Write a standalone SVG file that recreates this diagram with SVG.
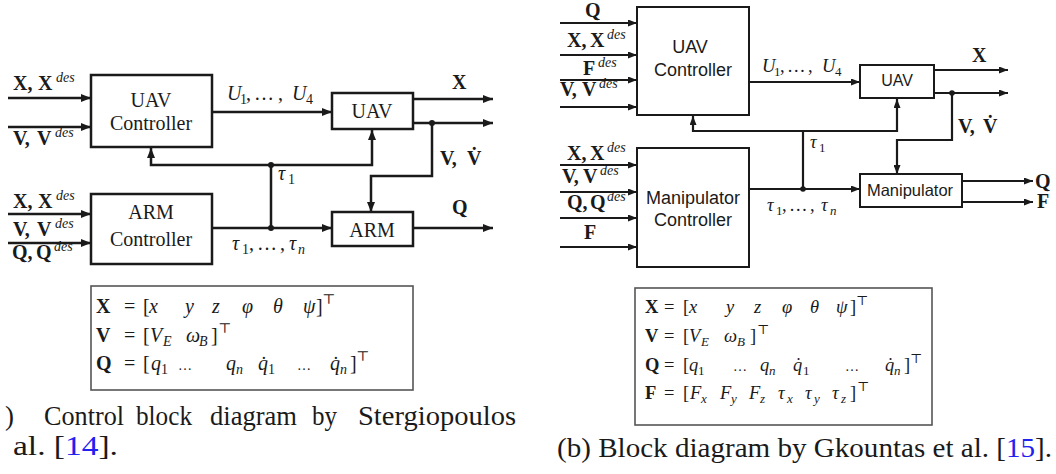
<svg xmlns="http://www.w3.org/2000/svg" width="1056" height="474" viewBox="0 0 1056 474">
<defs>
<style>
.ln{fill:none;stroke:#1a1a1a;stroke-width:2.5}
.lr{fill:none;stroke:#1a1a1a;stroke-width:2.2}
.bx{fill:#fff;stroke:#1a1a1a;stroke-width:2.5}
.bxr{fill:#fff;stroke:#1a1a1a;stroke-width:2}
.lg{fill:#fff;stroke:#555;stroke-width:1.6}
.dot{fill:#1a1a1a}
text{font-family:"Liberation Serif","DejaVu Serif",serif;fill:#1a1a1a}
.bf{font-weight:bold;font-size:20px}
.sp{font-style:italic;font-weight:normal;font-size:14px}
.rm{font-size:20px;font-weight:normal;font-style:normal}
.mi{font-style:italic;font-weight:normal;font-size:20px}
.sb{font-size:14px;font-weight:normal;font-style:normal}
.sbi{font-style:italic;font-weight:normal;font-size:14px}
.el{font-size:14px;font-weight:normal;font-style:normal}
.bf2{font-weight:bold;font-size:18.5px}
.rm2{font-size:18.5px;font-weight:normal}
.mi2{font-style:italic;font-size:18.5px}
.sb2{font-size:13px}
.sbi2{font-style:italic;font-size:13px}
.ss{font-family:"Liberation Sans","Noto Sans",sans-serif}
.cap{font-size:27px}
.blue{fill:#2020f0}
.ctr{text-anchor:middle}
</style>
<marker id="ah" markerUnits="userSpaceOnUse" markerWidth="10" markerHeight="8" refX="10" refY="4" orient="auto"><path d="M0,0L10,4L0,8z" fill="#1a1a1a"/></marker>
<marker id="ahr" markerUnits="userSpaceOnUse" markerWidth="9" markerHeight="7" refX="9" refY="3.5" orient="auto"><path d="M0,0L9,3.5L0,7z" fill="#1a1a1a"/></marker>
</defs>
<rect width="1056" height="474" fill="#fff"/>

<!-- ===== Left diagram ===== -->
<g id="connectors-left">
<path class="ln" d="M8,98H91" marker-end="url(#ah)"/>
<path class="ln" d="M8,127H91" marker-end="url(#ah)"/>
<path class="ln" d="M8,214H91" marker-end="url(#ah)"/>
<path class="ln" d="M8,243H91" marker-end="url(#ah)"/>
<path class="ln" d="M212,112H332" marker-end="url(#ah)"/>
<path class="ln" d="M413,99H493" marker-end="url(#ah)"/>
<path class="ln" d="M413,123H493" marker-end="url(#ah)"/>
<path class="ln" d="M432,123V176H371V212" marker-end="url(#ah)"/>
<path class="ln" d="M212,228H332" marker-end="url(#ah)"/>
<path class="ln" d="M271,228V165"/>
<path class="ln" d="M271,165H151V148" marker-end="url(#ah)"/>
<path class="ln" d="M271,165H372V130" marker-end="url(#ah)"/>
<path class="ln" d="M413,228H493" marker-end="url(#ah)"/>
<circle class="dot" cx="432" cy="123" r="3"/>
<circle class="dot" cx="271" cy="165" r="3"/>
<circle class="dot" cx="271" cy="228" r="3"/>
</g>

<g id="uav-controller-left">
<rect class="bx" x="91" y="75" width="121" height="72"/>
<text class="rm ctr" x="151" y="107">UAV</text>
<text class="rm ctr" x="151" y="130">Controller</text>
</g>
<g id="arm-controller-left">
<rect class="bx" x="91" y="194" width="121" height="70"/>
<text class="rm ctr" x="151" y="219">ARM</text>
<text class="rm ctr" x="151" y="246">Controller</text>
</g>
<g id="uav-left">
<rect class="bx" x="332" y="93" width="81" height="36"/>
<text class="rm ctr" x="372" y="118">UAV</text>
</g>
<g id="arm-left">
<rect class="bx" x="332" y="212" width="81" height="34"/>
<text class="rm ctr" x="372" y="237">ARM</text>
</g>

<g id="labels-left">
<text class="bf" y="90"><tspan x="13">X,</tspan><tspan x="38">X</tspan><tspan class="sp" x="56" y="82">des</tspan></text>
<text class="bf" y="145"><tspan x="13">V,</tspan><tspan x="37">V</tspan><tspan class="sp" x="55" y="137">des</tspan></text>
<text class="bf" y="208"><tspan x="13">X,</tspan><tspan x="38">X</tspan><tspan class="sp" x="56" y="200">des</tspan></text>
<text class="bf" y="236"><tspan x="13">V,</tspan><tspan x="37">V</tspan><tspan class="sp" x="55" y="228">des</tspan></text>
<text class="bf" y="259"><tspan x="12">Q,</tspan><tspan x="36">Q</tspan><tspan class="sp" x="54" y="251">des</tspan></text>
<text y="100"><tspan class="mi" x="227">U</tspan><tspan class="sb" x="240" y="104">1</tspan><tspan class="rm" x="246" y="100">,</tspan><tspan class="rm" x="254">…</tspan><tspan class="rm" x="278">,</tspan><tspan class="mi" x="292">U</tspan><tspan class="sb" x="306" y="104">4</tspan></text>
<text class="bf" x="452" y="89">X</text>
<text class="bf" y="165"><tspan x="440">V,</tspan><tspan x="467">V̇</tspan></text>
<text y="180"><tspan class="mi" x="278">τ</tspan><tspan class="sb" x="288" y="184">1</tspan></text>
<text class="bf" x="452" y="214">Q</text>
<text y="250"><tspan class="mi" x="232">τ</tspan><tspan class="sb" x="242" y="254">1</tspan><tspan class="rm" x="249" y="250">,</tspan><tspan class="rm" x="257">…</tspan><tspan class="rm" x="280">,</tspan><tspan class="mi" x="289">τ</tspan><tspan class="sbi" x="298" y="254">n</tspan></text>
</g>

<g id="legend-left">
<rect class="lg" x="91" y="286" width="322" height="104"/>
<text y="313"><tspan class="bf" x="96">X</tspan><tspan class="rm" x="124">=</tspan><tspan class="rm" x="143">[</tspan><tspan class="mi" x="149">x</tspan><tspan class="mi" x="185">y</tspan><tspan class="mi" x="212">z</tspan><tspan class="mi" x="242">φ</tspan><tspan class="mi" x="273">θ</tspan><tspan class="mi" x="303">ψ</tspan><tspan class="rm" x="316">]</tspan><tspan class="sb" x="322" y="304">⊤</tspan></text>
<text y="342"><tspan class="bf" x="96">V</tspan><tspan class="rm" x="124">=</tspan><tspan class="rm" x="143">[</tspan><tspan class="mi" x="150">V</tspan><tspan class="sbi" x="163" y="346">E</tspan><tspan class="mi" x="186" y="342">ω</tspan><tspan class="sbi" x="199" y="346">B</tspan><tspan class="rm" x="211" y="342">]</tspan><tspan class="sb" x="218" y="333">⊤</tspan></text>
<text y="370"><tspan class="bf" x="96">Q</tspan><tspan class="rm" x="124">=</tspan><tspan class="rm" x="143">[</tspan><tspan class="mi" x="151">q</tspan><tspan class="sb" x="161" y="374">1</tspan><tspan class="el" x="178" y="370">…</tspan><tspan class="mi" x="226" y="370">q</tspan><tspan class="sbi" x="236" y="374">n</tspan><tspan class="mi" x="258" y="370">q̇</tspan><tspan class="sb" x="268" y="374">1</tspan><tspan class="el" x="297" y="370">…</tspan><tspan class="mi" x="330" y="370">q̇</tspan><tspan class="sbi" x="340" y="374">n</tspan><tspan class="rm" x="350" y="370">]</tspan><tspan class="sb" x="356" y="361">⊤</tspan></text>
</g>

<g id="caption-left">
<text class="cap" y="425"><tspan x="5">)</tspan><tspan x="44" textLength="80" lengthAdjust="spacingAndGlyphs">Control</tspan><tspan x="136" textLength="56" lengthAdjust="spacingAndGlyphs">block</tspan><tspan x="210" textLength="87" lengthAdjust="spacingAndGlyphs">diagram</tspan><tspan x="312" textLength="25" lengthAdjust="spacingAndGlyphs">by</tspan><tspan x="358" textLength="158" lengthAdjust="spacingAndGlyphs">Stergiopoulos</tspan></text>
<text class="cap" x="13" y="455" textLength="105" lengthAdjust="spacingAndGlyphs">al. [<tspan class="blue">14</tspan>].</text>
</g>

<!-- ===== Right diagram ===== -->
<g id="connectors-right">
<path class="lr" d="M560,23H637" marker-end="url(#ahr)"/>
<path class="lr" d="M560,55H637" marker-end="url(#ahr)"/>
<path class="lr" d="M560,80H637" marker-end="url(#ahr)"/>
<path class="lr" d="M560,107H637" marker-end="url(#ahr)"/>
<path class="lr" d="M560,165H637" marker-end="url(#ahr)"/>
<path class="lr" d="M560,192H637" marker-end="url(#ahr)"/>
<path class="lr" d="M560,218H637" marker-end="url(#ahr)"/>
<path class="lr" d="M560,247H637" marker-end="url(#ahr)"/>
<path class="lr" d="M749,82H860" marker-end="url(#ahr)"/>
<path class="lr" d="M934,70H1008" marker-end="url(#ahr)"/>
<path class="lr" d="M934,93H1008" marker-end="url(#ahr)"/>
<path class="lr" d="M952,93V140H897V174" marker-end="url(#ahr)"/>
<path class="lr" d="M803,189V131"/>
<path class="lr" d="M803,131H693V116" marker-end="url(#ahr)"/>
<path class="lr" d="M803,131H897V99" marker-end="url(#ahr)"/>
<path class="lr" d="M749,189H860" marker-end="url(#ahr)"/>
<path class="lr" d="M962,181H1033" marker-end="url(#ahr)"/>
<path class="lr" d="M962,202H1033" marker-end="url(#ahr)"/>
<circle class="dot" cx="952" cy="93" r="2.8"/>
<circle class="dot" cx="803" cy="189" r="2.8"/>
</g>

<g id="uav-controller-right">
<rect class="bxr" x="637" y="7" width="112" height="108"/>
<text class="ss ctr" x="690" y="53" font-size="18">UAV</text>
<text class="ss ctr" x="693" y="76" font-size="18">Controller</text>
</g>
<g id="manipulator-controller-right">
<rect class="bxr" x="637" y="148" width="112" height="119"/>
<text class="ss ctr" x="693" y="204" font-size="18">Manipulator</text>
<text class="ss ctr" x="693" y="226" font-size="18">Controller</text>
</g>
<g id="uav-right">
<rect class="bxr" x="860" y="65" width="74" height="33"/>
<text class="ss ctr" x="897" y="86" font-size="16">UAV</text>
</g>
<g id="manipulator-right">
<rect class="bxr" x="860" y="174" width="102" height="33"/>
<text class="ss ctr" x="910" y="196" font-size="16.5">Manipulator</text>
</g>

<g id="labels-right">
<text class="bf" x="585" y="17">Q</text>
<text class="bf" y="47"><tspan x="567">X,</tspan><tspan x="590">X</tspan><tspan class="sp" x="607" y="39">des</tspan></text>
<text class="bf" y="75"><tspan x="583">F</tspan><tspan class="sp" x="598" y="67">des</tspan></text>
<text class="bf" y="96"><tspan x="560">V,</tspan><tspan x="582">V</tspan><tspan class="sp" x="599" y="88">des</tspan></text>
<text class="bf" y="160"><tspan x="567">X,</tspan><tspan x="590">X</tspan><tspan class="sp" x="607" y="152">des</tspan></text>
<text class="bf" y="183"><tspan x="562">V,</tspan><tspan x="583">V</tspan><tspan class="sp" x="600" y="175">des</tspan></text>
<text class="bf" y="209"><tspan x="567">Q,</tspan><tspan x="590">Q</tspan><tspan class="sp" x="607" y="201">des</tspan></text>
<text class="bf" x="584" y="239">F</text>
<text y="72"><tspan class="mi2" x="762">U</tspan><tspan class="sb2" x="774" y="76">1</tspan><tspan class="rm2" x="780" y="72">,</tspan><tspan class="rm2" x="787">…</tspan><tspan class="rm2" x="808">,</tspan><tspan class="mi2" x="822">U</tspan><tspan class="sb2" x="835" y="76">4</tspan></text>
<text class="bf" x="972" y="62">X</text>
<text class="bf" y="133"><tspan x="958">V,</tspan><tspan x="983">V̇</tspan></text>
<text y="148"><tspan class="mi2" x="810">τ</tspan><tspan class="sb2" x="819" y="152">1</tspan></text>
<text class="bf" x="1035" y="188">Q</text>
<text class="bf" x="1037" y="208">F</text>
<text y="211"><tspan class="mi2" x="767">τ</tspan><tspan class="sb2" x="776" y="215">1</tspan><tspan class="rm2" x="782" y="211">,</tspan><tspan class="rm2" x="789">…</tspan><tspan class="rm2" x="810">,</tspan><tspan class="mi2" x="821">τ</tspan><tspan class="sbi2" x="830" y="215">n</tspan></text>
</g>

<g id="legend-right">
<rect class="lg" x="635" y="288" width="297" height="137"/>
<text y="313"><tspan class="bf2" x="645">X</tspan><tspan class="rm2" x="664">=</tspan><tspan class="rm2" x="683">[</tspan><tspan class="mi2" x="689">x</tspan><tspan class="mi2" x="726">y</tspan><tspan class="mi2" x="754">z</tspan><tspan class="mi2" x="782">φ</tspan><tspan class="mi2" x="810">θ</tspan><tspan class="mi2" x="836">ψ</tspan><tspan class="rm2" x="850">]</tspan><tspan class="sb2" x="856" y="305">⊤</tspan></text>
<text y="342"><tspan class="bf2" x="645">V</tspan><tspan class="rm2" x="664">=</tspan><tspan class="rm2" x="683">[</tspan><tspan class="mi2" x="689">V</tspan><tspan class="sbi2" x="701" y="346">E</tspan><tspan class="mi2" x="724" y="342">ω</tspan><tspan class="sbi2" x="737" y="346">B</tspan><tspan class="rm2" x="750" y="342">]</tspan><tspan class="sb2" x="757" y="334">⊤</tspan></text>
<text y="371"><tspan class="bf2" x="645">Q</tspan><tspan class="rm2" x="664">=</tspan><tspan class="rm2" x="683">[</tspan><tspan class="mi2" x="689">q</tspan><tspan class="sb2" x="698" y="375">1</tspan><tspan class="el" x="733" y="371">…</tspan><tspan class="mi2" x="760" y="371">q</tspan><tspan class="sbi2" x="769" y="375">n</tspan><tspan class="mi2" x="793" y="371">q̇</tspan><tspan class="sb2" x="803" y="375">1</tspan><tspan class="el" x="845" y="371">…</tspan><tspan class="mi2" x="885" y="371">q̇</tspan><tspan class="sbi2" x="894" y="375">n</tspan><tspan class="rm2" x="904" y="371">]</tspan><tspan class="sb2" x="910" y="363">⊤</tspan></text>
<text y="399"><tspan class="bf2" x="645">F</tspan><tspan class="rm2" x="664">=</tspan><tspan class="rm2" x="683">[</tspan><tspan class="mi2" x="690">F</tspan><tspan class="sbi2" x="701" y="403">x</tspan><tspan class="mi2" x="720" y="399">F</tspan><tspan class="sbi2" x="731" y="403">y</tspan><tspan class="mi2" x="749" y="399">F</tspan><tspan class="sbi2" x="760" y="403">z</tspan><tspan class="mi2" x="778" y="399">τ</tspan><tspan class="sbi2" x="787" y="403">x</tspan><tspan class="mi2" x="805" y="399">τ</tspan><tspan class="sbi2" x="814" y="403">y</tspan><tspan class="mi2" x="832" y="399">τ</tspan><tspan class="sbi2" x="841" y="403">z</tspan><tspan class="rm2" x="850" y="399">]</tspan><tspan class="sb2" x="857" y="391">⊤</tspan></text>
</g>

<g id="caption-right">
<text class="cap" x="557" y="457" textLength="495" lengthAdjust="spacingAndGlyphs">(b) Block diagram by Gkountas et al. [<tspan class="blue">15</tspan>].</text>
</g>
</svg>
